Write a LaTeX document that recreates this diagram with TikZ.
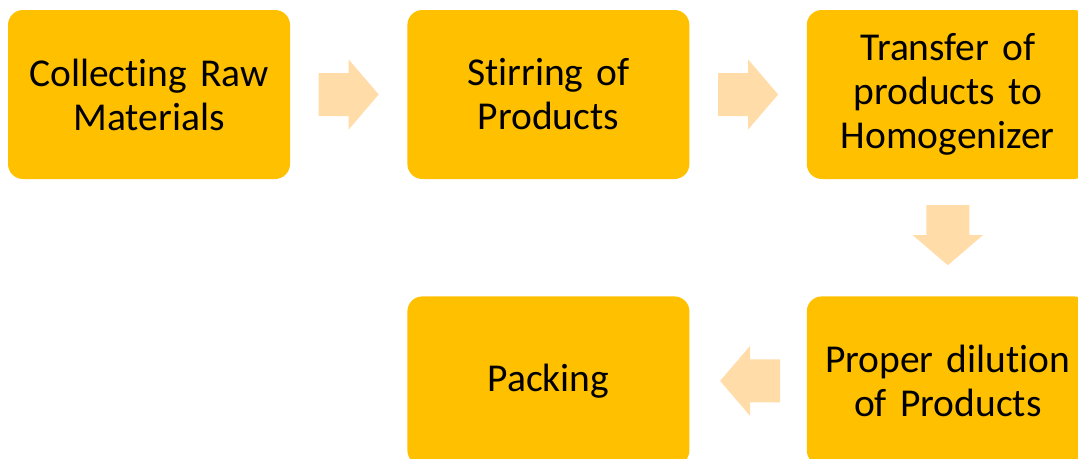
\documentclass[tikz,border=0pt]{standalone}
\usepackage{fontspec}
\setmainfont[Ligatures=NoCommon]{Carlito}
\usetikzlibrary{positioning,calc}
\definecolor{stagegold}{HTML}{FFC000}
\definecolor{arrowpeach}{HTML}{FFDCA8}

\begin{document}
\begin{tikzpicture}[
  x=1pt,y=-1pt,
  font=\fontsize{39.5}{44}\selectfont,
  stage/.style={fill=stagegold,rounded corners=15pt,minimum width=282pt,minimum height=169pt,text width=276pt,inner sep=0pt,align=center},
  blockarrow/.pic={\fill[arrowpeach] (-30,-21.5) -- (0,-21.5) -- (0,-35) -- (30,0) -- (0,35) -- (0,21.5) -- (-30,21.5) -- cycle;},
  node distance=117pt
]
  \useasboundingbox (0,0) rectangle (1078,458);
  \clip (0,0) rectangle (1078,458);

  \node[stage] (collect) at (149,94.5) {Collecting Raw\\Materials};
  \node[stage,right=of collect] (stir) {Stirring of\\Products};
  \node[stage,right=of stir] (transfer) {Transfer of\\products to\\Homogenizer};
  \node[stage,below=of transfer] (dilute) {Proper dilution\\of Products};
  \node[stage,left=of dilute] (pack) {Packing};

  % block arrows sit halfway between the boxes
  \pic at ($(collect.east)!.5!(stir.west)$) {blockarrow};
  \pic at ($(stir.east)!.5!(transfer.west)$) {blockarrow};
  \pic[rotate=-90] at ($(transfer.south)!.5!(dilute.north)+(0,-2.5)$) {blockarrow};
  \pic[rotate=180] at ($(dilute.west)!.5!(pack.east)+(2,0)$) {blockarrow};
\end{tikzpicture}
\end{document}
